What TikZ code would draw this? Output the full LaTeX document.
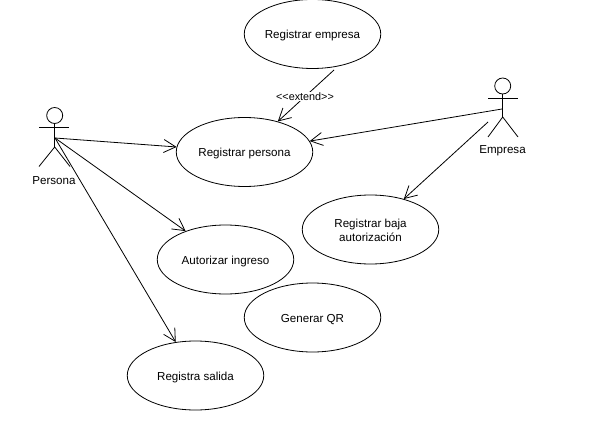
\documentclass[tikz,border=0pt]{standalone}
\usepackage{fontspec}
\setmainfont{Liberation Sans}
\usetikzlibrary{shapes.geometric,arrows.meta}
\begin{document}
\begin{tikzpicture}[x=1pt,y=-1pt,line width=0.8pt,
  every node/.style={font=\fontsize{11.6}{14}\selectfont,inner sep=0pt},
  usecase/.style={draw,ellipse,minimum width=136.5pt,minimum height=69pt,align=center,text height=11.5pt,text depth=2.4pt},
  head/.style={draw,circle,minimum size=16pt},
  arr/.style={-{Straight Barb[length=12pt,width=13pt,line width=0.8pt]}}]
\useasboundingbox (0,0) rectangle (593,438);
\node [usecase] (rempresa) at (312.5,34) {Registrar empresa};
\node [usecase] (rpersona) at (244.5,152) {Registrar persona};
\node [usecase,text height=25.5pt] (rbaja) at (370.5,229.5) {Registrar baja\\autorización};
\node [usecase] (aingreso) at (225.5,259.5) {Autorizar ingreso};
\node [usecase] (gqr) at (312.5,317.5) {Generar QR};
\node [usecase] (rsalida) at (195.5,375.5) {Registra salida};
% Persona
\node [head] (hpersona) at (54.7,115.5) {};
\draw (39,127) -- (69,127);
\draw (hpersona) -- (54.7,147) coordinate (cpersona);
\draw (39,166.5) -- (cpersona) -- (70,166.5);
\node (lpersona) at (54,180.5) {Persona};
\coordinate (apersona) at (55,138);
% Empresa
\node [head] (hempresa) at (502.7,86) {};
\draw (488,98) -- (518,98);
\draw (hempresa) -- (502.7,117) coordinate (cempresa);
\draw (488,137) -- (cempresa) -- (518,137);
\node (lempresa) at (502.5,150.5) {Empresa};
\coordinate (aempresa) at (502,109);
\coordinate (bempresa) at (488,122);
\coordinate (textend) at (334,70);
% flechas
\draw [arr] (apersona) -- (rpersona);
\draw [arr] (apersona) -- (aingreso);
\draw [arr] (apersona) -- (rsalida);
\draw [arr] (aempresa) -- (rpersona);
\draw [arr] (bempresa) -- (rbaja);
\draw [arr] (textend) -- (rpersona);
\node [fill=white,inner sep=1pt,font=\fontsize{10.8}{13}\selectfont] (lextend) at (305,96.5) {<{}<extend>{}>};
\end{tikzpicture}
\end{document}
